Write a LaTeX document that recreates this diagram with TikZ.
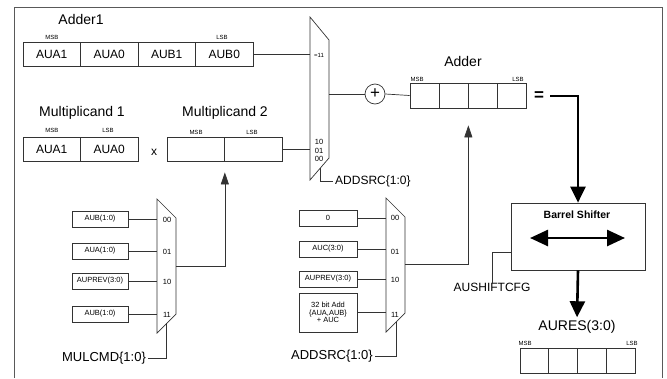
\documentclass[tikz,border=0pt]{standalone}
\usepackage{fontspec}
\setmainfont{Liberation Sans}
\usepackage{tikz}
\usetikzlibrary{arrows.meta,positioning}

\newcommand{\fs}[1]{\fontsize{#1}{#1}\selectfont}

\begin{document}
\begin{tikzpicture}[
    x=1pt, y=-1pt,
    wire/.style={
        draw=black!80,
        line width=0.7pt
    },
    frame/.style={
        draw=black!65,
        line width=0.8pt
    },
    arrow/.style={
        wire,
        -{Triangle[length=12pt,width=8pt]}
    },
    bus/.style={
        draw=black,
        line width=2.6pt
    },
    busarrow/.style={
        bus,
        -{Triangle[length=16pt,width=15pt]}
    },
    cell/.style={
        draw=black!80,
        line width=0.7pt,
        inner sep=0pt,
        minimum height=24pt,
        font=\fs{12}
    },
    title/.style={
        inner sep=0pt,
        font=\fs{14}
    },
    bitlbl/.style={
        inner sep=0pt,
        font=\fs{6}
    },
    inbox/.style={
        draw=black!80,
        line width=0.7pt,
        inner sep=1pt,
        minimum width=56pt,
        minimum height=16pt,
        align=center,
        font=\fs{7.5}
    },
    muxlbl/.style={
        inner sep=0pt,
        font=\fs{7.5}
    },
    sellbl/.style={
        inner sep=0pt,
        font=\fs{13}
    }
]

\useasboundingbox (0,0) rectangle (667,378);

% ==================================================
% Outer frame
% ==================================================

\draw[frame] (14,378) |- (662,7) -- (662,378);


% ==================================================
% Adder1 register
% ==================================================

\node[title] (adder1) at (81,19) {Adder1};

\node[cell, minimum width=57.5pt] (a1a) at (51.75,54) {AUA1};
\node[cell, minimum width=57.5pt] (a1b) at (109.25,54) {AUA0};
\node[cell, minimum width=57.5pt] (a1c) at (166.75,54) {AUB1};
\node[cell, minimum width=57.5pt] (a1d) at (224.25,54) {AUB0};

\node[bitlbl] (a1msb) at (52,37) {MSB};
\node[bitlbl] (a1lsb) at (222,37) {LSB};


% ==================================================
% Multiplicand registers
% ==================================================

\node[title] (mult1) at (82,113) {Multiplicand 1};
\node[cell, minimum width=57.5pt] (m1a) at (51.75,149) {AUA1};
\node[cell, minimum width=57.5pt] (m1b) at (109.25,149) {AUA0};
\node[bitlbl] (m1msb) at (52,130) {MSB};
\node[bitlbl] (m1lsb) at (108,130) {LSB};

\node[inner sep=0pt, font=\fs{12}] (times) at (154,152) {x};

\node[title] (mult2) at (225,113) {Multiplicand 2};
\node[cell, minimum width=57.5pt] (m2a) at (195.75,149) {};
\node[cell, minimum width=57.5pt] (m2b) at (253.25,149) {};
\node[bitlbl] (m2msb) at (196,132) {MSB};
\node[bitlbl] (m2lsb) at (252,132) {LSB};


% ==================================================
% Adder source mux (top)
% ==================================================

\draw[wire] (310,17) -- (329,40) -- (329,158) -- (310,180) -- cycle;
\coordinate (tmuxin11) at (310,54);
\coordinate (tmuxin10) at (310,149);
\coordinate (tmuxout) at (329,94);
\coordinate (tmuxsel) at (320.7,167.5);

\node[muxlbl, font=\fs{6}] (tm11) at (319,55) {=11};
\node[muxlbl] (tm10) at (319,142) {10};
\node[muxlbl] (tm01) at (319,151) {01};
\node[muxlbl] (tm00) at (319,159) {00};

\node[sellbl, font=\fs{12}, anchor=west] (tsel) at (335,181) {ADDSRC\{1:0\}};


% ==================================================
% Adder
% ==================================================

\node[draw=black!80, line width=0.7pt, circle, inner sep=0pt,
      minimum size=20pt, font=\fs{17}] (plus) at (375,94) {+};

\node[title] (adder) at (463,61) {Adder};
\node[cell, minimum width=29pt, minimum height=25pt] (ada) at (424.5,95.5) {};
\node[cell, minimum width=29pt, minimum height=25pt] (adb) at (453.5,95.5) {};
\node[cell, minimum width=29pt, minimum height=25pt] (adc) at (482.5,95.5) {};
\node[cell, minimum width=29pt, minimum height=25pt] (add) at (511.5,95.5) {};
\node[bitlbl] (admsb) at (417,79) {MSB};
\node[bitlbl] (adlsb) at (518,79) {LSB};

\node[inner sep=0pt, font=\fs{17}\bfseries] (eqsign) at (539,96) {=};


% ==================================================
% Barrel shifter and result
% ==================================================

\node[draw=black!80, line width=0.7pt, minimum width=134pt,
      minimum height=67pt] (barrel) at (578,236.5) {};
\node[inner sep=0pt, font=\fs{10.5}\bfseries] (bstitle) at (577,215) {Barrel Shifter};
\coordinate (bsleft) at (530,238);
\coordinate (bsright) at (625,238);

\node[sellbl, font=\fs{12}] (shiftcfg) at (492,287) {AUSHIFTCFG};

\node[title] (aures) at (577,327) {AURES(3:0)};
\node[cell, minimum width=28.75pt, minimum height=25pt] (ra) at (534.4,360.5) {};
\node[cell, minimum width=28.75pt, minimum height=25pt] (rb) at (563.1,360.5) {};
\node[cell, minimum width=28.75pt, minimum height=25pt] (rc) at (591.9,360.5) {};
\node[cell, minimum width=28.75pt, minimum height=25pt] (rd) at (620.6,360.5) {};
\node[bitlbl] (rmsb) at (525,343) {MSB};
\node[bitlbl] (rlsb) at (632,343) {LSB};


% ==================================================
% Multiplier command mux
% ==================================================

\node[inbox] (mulin0) at (100,219) {AUB(1:0)};
\node[inbox] (mulin1) at (100,251) {AUA(1:0)};
\node[inbox] (mulin2) at (100,281) {AUPREV(3:0)};
\node[inbox] (mulin3) at (100,314) {AUB(1:0)};

\draw[wire] (157,199) -- (176,218) -- (176,314) -- (157,333) -- cycle;
\coordinate (mmuxout) at (176,266);
\coordinate (mmuxsel) at (166.7,323.3);

\node[muxlbl] (mm00) at (167,220) {00};
\node[muxlbl] (mm01) at (167,252) {01};
\node[muxlbl] (mm10) at (167,282) {10};
\node[muxlbl] (mm11) at (167,315) {11};

\node[sellbl] (mulsel) at (104,358) {MULCMD\{1:0\}};


% ==================================================
% Adder source mux (bottom)
% ==================================================

\node[inbox, minimum width=58pt] (addin0) at (328,218) {0};
\node[inbox, minimum width=58pt] (addin1) at (328,249) {AUC(3:0)};
\node[inbox, minimum width=58pt] (addin2) at (328,279) {AUPREV(3:0)};
\node[inbox, minimum width=58pt, minimum height=39pt] (addin3) at (328,312.5)
{32 bit Add\\[0pt]\{AUA,AUB\}\\[0pt]+ AUC};

\draw[wire] (386,198) -- (405,217) -- (405,313) -- (386,332) -- cycle;
\coordinate (amuxout) at (405,264);
\coordinate (amuxsel) at (396,322);

\node[muxlbl] (am00) at (395,218) {00};
\node[muxlbl] (am01) at (395,252) {01};
\node[muxlbl] (am10) at (395,280) {10};
\node[muxlbl] (am11) at (395,315) {11};

\node[sellbl] (addsel) at (332,356) {ADDSRC\{1:0\}};


% ==================================================
% Connections
% ==================================================

\draw[wire] (a1d.east) -- (tmuxin11);
\draw[wire] (m2b.east) -- (tmuxin10);
\draw[wire] (tmuxsel) |- ([xshift=-2pt]tsel.west);
\draw[wire] (tmuxout) -- (plus.west);
\draw[wire] (plus.east) -- (ada.west);

% Multiplier mux inputs and output
\draw[wire] (mulin0.east) -- (mulin0.east -| 157,0);
\draw[wire] (mulin1.east) -- (mulin1.east -| 157,0);
\draw[wire] (mulin2.east) -- (mulin2.east -| 157,0);
\draw[wire] (mulin3.east) -- (mulin3.east -| 157,0);
\draw[arrow, shorten >=11pt] (mmuxout) -| (m2a.south east);
\draw[wire] (mmuxsel) |- ([xshift=2pt]mulsel.east);

% Adder mux inputs and output
\draw[wire] (addin0.east) -- (addin0.east -| 386,0);
\draw[wire] (addin1.east) -- (addin1.east -| 386,0);
\draw[wire] (addin2.east) -- (addin2.east -| 386,0);
\draw[wire] (addin3.east) -- (addin3.east -| 386,0);
\draw[arrow, shorten >=17pt] (amuxout) -| (adb.south east);
\draw[wire] (amuxsel) |- ([xshift=2pt]addsel.east);

% Result path
\draw[busarrow] ([xshift=6pt]eqsign.east) -| (barrel.north);
\draw[bus, {Triangle[length=18pt,width=16pt]}-{Triangle[length=18pt,width=16pt]}]
    (bsleft) -- (bsright);
\draw[busarrow, shorten >=3pt] (barrel.south) -- (aures.north);
\draw[wire] (barrel.west |- 0,252) -| (shiftcfg.north);

\end{tikzpicture}
\end{document}
